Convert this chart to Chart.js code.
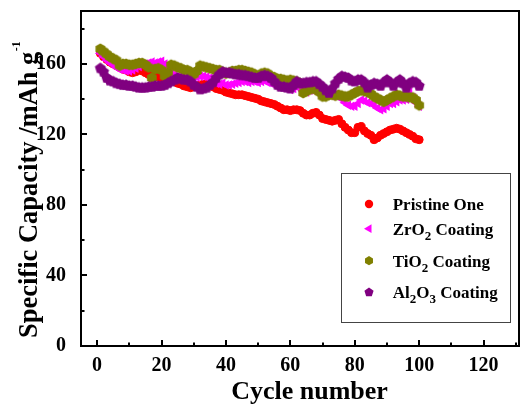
<!DOCTYPE html>
<html><head><meta charset="utf-8">
<script src="https://cdn.jsdelivr.net/npm/chart.js@4.4.0/dist/chart.umd.min.js"></script>
<style>html,body{margin:0;padding:0;background:#fff;overflow:hidden}</style>
</head><body>
<canvas id="c" width="521" height="404"></canvas>
<script>
const cycles = [1,2,3,4,5,6,7,8,9,10,11,12,13,14,15,16,17,18,19,20,21,22,23,24,25,26,27,28,29,30,31,32,33,34,35,36,37,38,39,40,41,42,43,44,45,46,47,48,49,50,51,52,53,54,55,56,57,58,59,60,61,62,63,64,65,66,67,68,69,70,71,72,73,74,75,76,77,78,79,80,81,82,83,84,85,86,87,88,89,90,91,92,93,94,95,96,97,98,99,100];
const pristine = [166,164,162.5,161,160,159,158,157,156.5,155.5,
155,155.5,156.5,156,155,154,153.5,153,152.5,152,
151.5,151,150.5,150,149,148.5,147.5,147,146.5,147,
147.5,148,148.5,148.5,148,147,146,145.5,145,144,
143.5,143,142.5,142.5,142.5,142,141.5,141,140.5,140,
139,138.5,138,137.5,137,136,135,134,134,133.5,
134,134,133.5,132,131,131,132,132.5,131,129,
128.5,128,127.5,128,128.5,126,124,122.5,121,121,
124,124.5,122,120.5,119.5,117,118,119.5,120.5,121.5,
122.5,123,123.5,123,122,121,120,119,117.5,117];
const zro2 = [166,164,162,160.5,159.5,158,157,156.5,156,156,
156.5,157.5,158.5,159.5,160,160.5,161,160.5,161,161.5,
160,158,156,154,153,152,151.5,151,151,151.5,
152.5,153,153,152.5,152,150.5,149,148.5,149,148,
148,148.5,149,149.5,150,150,149.5,150,150,149.5,
150,150.5,149.5,149,149,148.5,148,147,146,145.5,
146,147,146,144.5,144,145,145,144.5,143.5,143,
143,142.5,142,142.5,142,140,138,136.5,136,136,
137.5,139.5,139,138,137.5,136.5,135,134,134.5,136,
137.5,137.5,138.5,139.5,139.5,140,144,141,138,136];
const tio2 = [168.5,167,165.5,164,163,162,159,160,160,159.5,
159.5,160,160.5,160.5,159.5,158,152,157,157.5,156.5,
153,155,159.5,159,158,157.5,156.5,156.5,155.5,154,
156,159,158.5,158,157.5,157,156.5,156.5,155.5,154.5,
155,156,156,156.5,156.5,156,155.5,155,154,153,
154.5,155,154.5,153,152.5,151.5,151.5,151,150.5,151,
150.5,150,149,143.5,144.5,145.5,146,145.5,144,141.5,
141.5,142.5,142.5,142,142.5,142,141.5,141.5,142.5,143.5,
144.5,145,144.5,144,143,141.5,140.5,139.5,138.5,139.5,
140.5,141.5,142.5,142,141.5,141.5,141,141,139.5,136.5];
const al2o3 = [157.5,155.5,152,150.5,150,149,148.5,148,148,147.5,
147.5,147,146.5,146.5,146.5,147,147,147.5,147.5,147.5,
148,149,150,151,152,151.5,151,151,150,148,
147,145.5,146,146.5,148,149.5,152,154,155.5,155,
155,154.5,154,154,153.5,153.5,153,152.5,152,152,
153,153.5,153,152,150,148,147,147,146.5,146,
148,150,149,149,149.5,149.5,150,150,148.5,147,
145,143.5,146,149,151.5,153,152.5,152,150.5,150,
151,151,149.5,146.5,148,149,148.5,147.5,149.5,151,
149.5,147.5,149.5,151,149,146.5,149,150,149.5,147.5];
const xTicks = [0,20,40,60,80,100,120];
const xMinor = [10,30,50,70,90,110,130];
const yTicks = [0,40,80,120,160];
const yMinor = [20,60,100,140,180];
const seriesNames = ['Pristine One','ZrO|2| Coating','TiO|2| Coating','Al|2|O|3| Coating'];
const colors = ['#ff0000','#ff00ff','#808000','#800080'];

function polyPath(ctx, cx, cy, n, r, rot) {
  ctx.beginPath();
  for (let k = 0; k < n; k++) {
    const a = rot + k * 2 * Math.PI / n;
    const px = cx + r * Math.sin(a), py = cy - r * Math.cos(a);
    if (k === 0) ctx.moveTo(px, py); else ctx.lineTo(px, py);
  }
  ctx.closePath();
}
function polyCanvas(n, r, color, rot) {
  const s = Math.ceil(2 * r + 2);
  const cv = document.createElement('canvas');
  cv.width = s; cv.height = s;
  const c = cv.getContext('2d');
  c.fillStyle = color;
  polyPath(c, s / 2, s / 2, n, r, rot);
  c.fill();
  return cv;
}
const hexImg = polyCanvas(6, 5.6, colors[2], 0);
const pentImg = polyCanvas(5, 5.8, colors[3], 0);

const mk = arr => cycles.map((c, i) => ({x: c, y: arr[i]}));
const FONT = "'Liberation Serif','Times New Roman',serif";

const decor = {
  id: 'decor',
  afterDraw(chart) {
    const {ctx, chartArea: a, scales: {x, y}} = chart;
    ctx.save();
    ctx.strokeStyle = '#000';
    ctx.lineWidth = 2;
    ctx.strokeRect(a.left, a.top, a.right - a.left, a.bottom - a.top);
    ctx.beginPath();
    xTicks.forEach(v => { const p = Math.round(x.getPixelForValue(v)); ctx.moveTo(p, a.bottom); ctx.lineTo(p, a.bottom - 6); });
    xMinor.forEach(v => { const p = Math.round(x.getPixelForValue(v)); if (p < a.right - 1) { ctx.moveTo(p, a.bottom); ctx.lineTo(p, a.bottom - 3.5); } });
    yTicks.forEach(v => { const p = Math.round(y.getPixelForValue(v)); ctx.moveTo(a.left, p); ctx.lineTo(a.left + 6, p); });
    yMinor.forEach(v => { const p = Math.round(y.getPixelForValue(v)); ctx.moveTo(a.left, p); ctx.lineTo(a.left + 3.5, p); });
    ctx.stroke();

    // axis titles
    ctx.fillStyle = '#000';
    ctx.textBaseline = 'alphabetic';
    ctx.font = 'bold 26px ' + FONT;
    ctx.textAlign = 'center';
    ctx.fillText('Cycle number', 309.5, 399);

    ctx.save();
    ctx.translate(37, 338);
    ctx.rotate(-Math.PI / 2);
    ctx.textAlign = 'left';
    const main = 'Specific Capacity /mAh g';
    ctx.font = 'bold 26.5px ' + FONT;
    const wm = ctx.measureText(main).width;
    ctx.fillText(main, 0, 0);
    ctx.font = 'bold 12px ' + FONT;
    ctx.fillText('-1', wm + 0.5, -17);
    ctx.restore();

    // legend
    ctx.lineWidth = 1;
    ctx.strokeStyle = '#444';
    ctx.strokeRect(341.5, 173.5, 169, 149);
    const rows = [204, 228.7, 260.7, 292.3];
    rows.forEach((cy, i) => {
      const mx = 369;
      ctx.fillStyle = colors[i];
      if (i === 0) { ctx.beginPath(); ctx.arc(mx, cy, 4.2, 0, 2 * Math.PI); ctx.fill(); }
      else if (i === 1) { polyPath(ctx, mx, cy, 3, 5, -Math.PI / 2); ctx.fill(); }
      else if (i === 2) { polyPath(ctx, mx, cy, 6, 4.6, 0); ctx.fill(); }
      else { polyPath(ctx, mx, cy, 5, 4.8, 0); ctx.fill(); }
      ctx.fillStyle = '#000';
      ctx.textAlign = 'left';
      let tx = 392.7;
      const parts = seriesNames[i].split('|');
      parts.forEach((p, k) => {
        if (!p) return;
        const sub = k % 2 === 1;
        ctx.font = sub ? 'bold 13px ' + FONT : 'bold 17px ' + FONT;
        ctx.fillText(p, tx, cy + 6 + (sub ? 5 : 0));
        tx += ctx.measureText(p).width;
      });
    });
    ctx.restore();
  }
};

const tickFont = {family: FONT, size: 20, weight: 'bold'};
new Chart(document.getElementById('c'), {
  type: 'scatter',
  data: {
    datasets: [
      {label: 'Pristine One', data: mk(pristine), order: 3, pointStyle: 'circle', pointRadius: 4, pointBorderWidth: 1, backgroundColor: colors[0], borderColor: colors[0]},
      {label: 'ZrO2 Coating', data: mk(zro2), order: 2, pointStyle: 'triangle', rotation: -90, pointRadius: 5.5, pointBorderWidth: 0, backgroundColor: colors[1], borderColor: colors[1]},
      {label: 'TiO2 Coating', data: mk(tio2), order: 1, pointStyle: hexImg, pointRadius: 5, backgroundColor: colors[2], borderColor: colors[2]},
      {label: 'Al2O3 Coating', data: mk(al2o3), order: 0, pointStyle: pentImg, pointRadius: 5, backgroundColor: colors[3], borderColor: colors[3]}
    ]
  },
  options: {
    responsive: false,
    animation: false,
    devicePixelRatio: 1,
    layout: {autoPadding: false, padding: {left: 0, top: 11, right: 2, bottom: 0}},
    plugins: {legend: {display: false}, tooltip: {enabled: false}},
    scales: {
      x: {
        type: 'linear', min: -5, max: 131,
        grid: {display: false}, border: {display: false},
        afterBuildTicks: s => { s.ticks = xTicks.map(v => ({value: v})); },
        afterFit: s => { s.height = 58; s.paddingLeft = 0; s.paddingRight = 0; },
        ticks: {font: tickFont, color: '#000', padding: 0, maxRotation: 0}
      },
      y: {
        type: 'linear', min: 0, max: 190,
        grid: {display: false}, border: {display: false},
        afterBuildTicks: s => { s.ticks = yTicks.map(v => ({value: v})); },
        afterFit: s => { s.width = 81; s.paddingTop = 0; s.paddingBottom = 0; },
        ticks: {font: tickFont, color: '#000', padding: 7}
      }
    }
  },
  plugins: [decor]
});
</script>
</body></html>
